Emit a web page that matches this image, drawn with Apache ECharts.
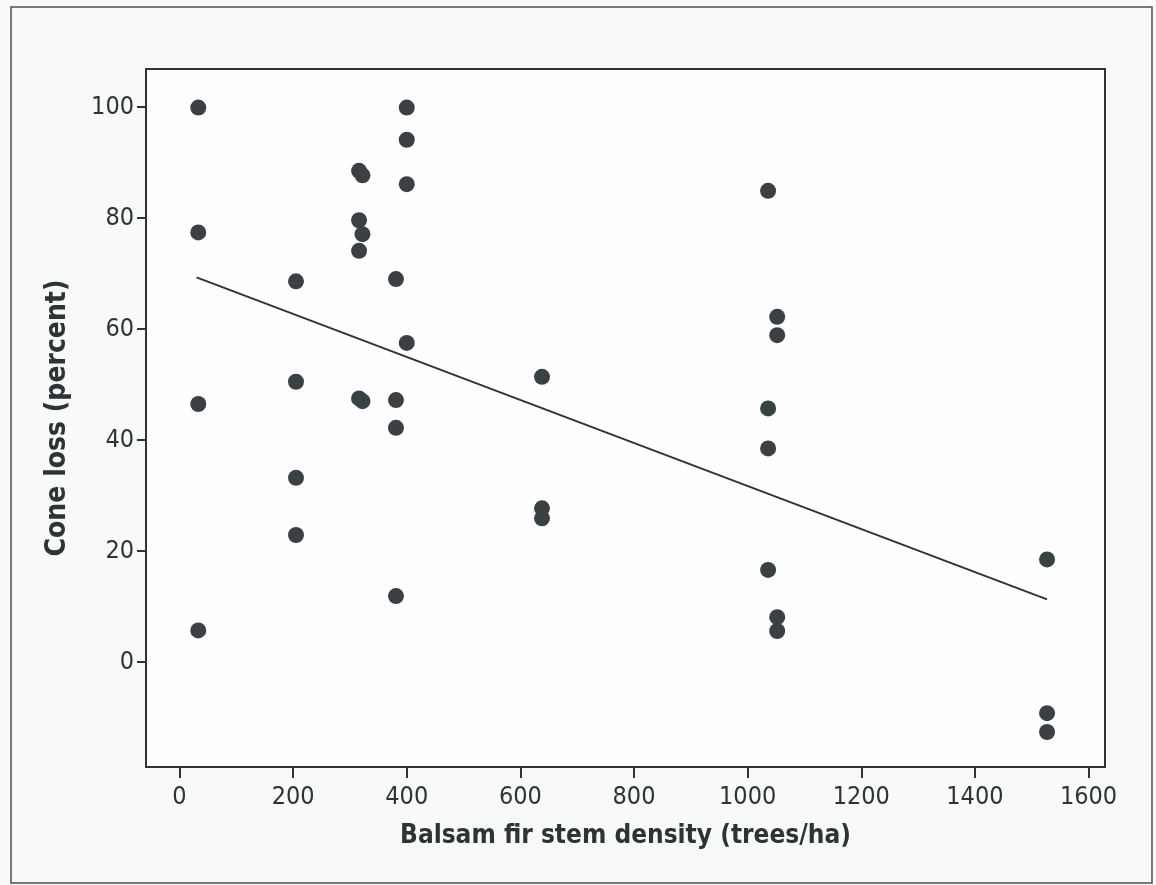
<!DOCTYPE html>
<html>
<head>
<meta charset="utf-8">
<title>Cone loss vs balsam fir stem density</title>
<script src="https://cdn.jsdelivr.net/npm/echarts@6/dist/echarts.min.js"></script>
<style>
  html, body { margin: 0; padding: 0; background: #f8f9f9; }
  #chart { width: 1156px; height: 885px; }
</style>
</head>
<body>
<div id="chart"></div>
<script>
// stem density (trees/ha) and cone loss (%)
var density = [
  33, 33, 33, 33,
  205, 205, 205, 205,
  316, 322, 316, 322, 316, 316, 322,
  381, 381, 381, 381,
  400, 400, 400, 400,
  638, 638, 638,
  1036, 1036, 1036, 1036,
  1052, 1052, 1052, 1052,
  1527, 1527, 1527
];
var coneLoss = [
  99.9, 77.4, 46.5, 5.7,
  68.6, 50.5, 33.2, 22.9,
  88.5, 87.7, 79.6, 77.1, 74.1, 47.5, 47.0,
  69.0, 47.2, 42.2, 11.9,
  99.9, 94.1, 86.1, 57.5,
  51.4, 27.7, 25.9,
  84.9, 45.7, 38.5, 16.6,
  62.2, 58.9, 8.1, 5.6,
  18.5, -9.2, -12.6
];
// fitted line ends
var fitX = [30, 1527];
var fitY = [69.3, 11.3];

var xTicks = [0, 200, 400, 600, 800, 1000, 1200, 1400, 1600];
var yTicks = [0, 20, 40, 60, 80, 100];

var points = [];
for (var i = 0; i < density.length; i++) {
  points.push([density[i], coneLoss[i]]);
}
var fitLine = [];
for (var j = 0; j < fitX.length; j++) {
  fitLine.push([fitX[j], fitY[j]]);
}

var chart = echarts.init(document.getElementById('chart'));
var labelFont = "'DejaVu Sans Condensed', 'DejaVu Sans', sans-serif";
var ink = '#2e3336';

var option = {
  backgroundColor: '#f8f9f9',
  animation: false,
  graphic: [{
    type: 'rect',
    shape: { x: 11, y: 7, width: 1141, height: 876 },
    style: { fill: 'none', stroke: '#4a4f52', lineWidth: 1.5 },
    z: -1
  }],
  grid: {
    left: 146, top: 69, right: 51, bottom: 118,
    show: true,
    backgroundColor: '#fefefe',
    borderColor: ink,
    borderWidth: 2
  },
  xAxis: {
    type: 'value',
    min: -59,
    max: 1629,
    name: 'Balsam fir stem density (trees/ha)',
    nameLocation: 'middle',
    nameGap: 56,
    nameTextStyle: {
      fontFamily: labelFont, fontWeight: 'bold', fontSize: 26, color: ink
    },
    splitLine: { show: false },
    axisLine: { onZero: false, lineStyle: { color: ink, width: 2 } },
    axisTick: {
      customValues: xTicks, length: 11, inside: false,
      lineStyle: { color: ink, width: 2 }
    },
    axisLabel: {
      customValues: xTicks, margin: 18,
      formatter: function (v) { return String(v); },
      fontFamily: labelFont, fontSize: 25, color: ink
    }
  },
  yAxis: {
    type: 'value',
    min: -18.9,
    max: 106.85,
    name: 'Cone loss (percent)',
    nameLocation: 'middle',
    nameGap: 74,
    nameTextStyle: {
      fontFamily: labelFont, fontWeight: 'bold', fontSize: 28, color: ink
    },
    splitLine: { show: false },
    axisLine: { onZero: false, lineStyle: { color: ink, width: 2 } },
    axisTick: {
      customValues: yTicks, length: 9, inside: false,
      lineStyle: { color: ink, width: 2 }
    },
    axisLabel: {
      customValues: yTicks, margin: 12,
      formatter: function (v) { return String(v); },
      fontFamily: labelFont, fontSize: 25, color: ink
    }
  },
  series: [
    {
      type: 'scatter',
      data: points,
      symbolSize: 16,
      itemStyle: { color: '#3a4145', opacity: 1 }
    },
    {
      type: 'line',
      data: fitLine,
      showSymbol: false,
      lineStyle: { color: ink, width: 2 }
    }
  ]
};
chart.setOption(option);
</script>
</body>
</html>
